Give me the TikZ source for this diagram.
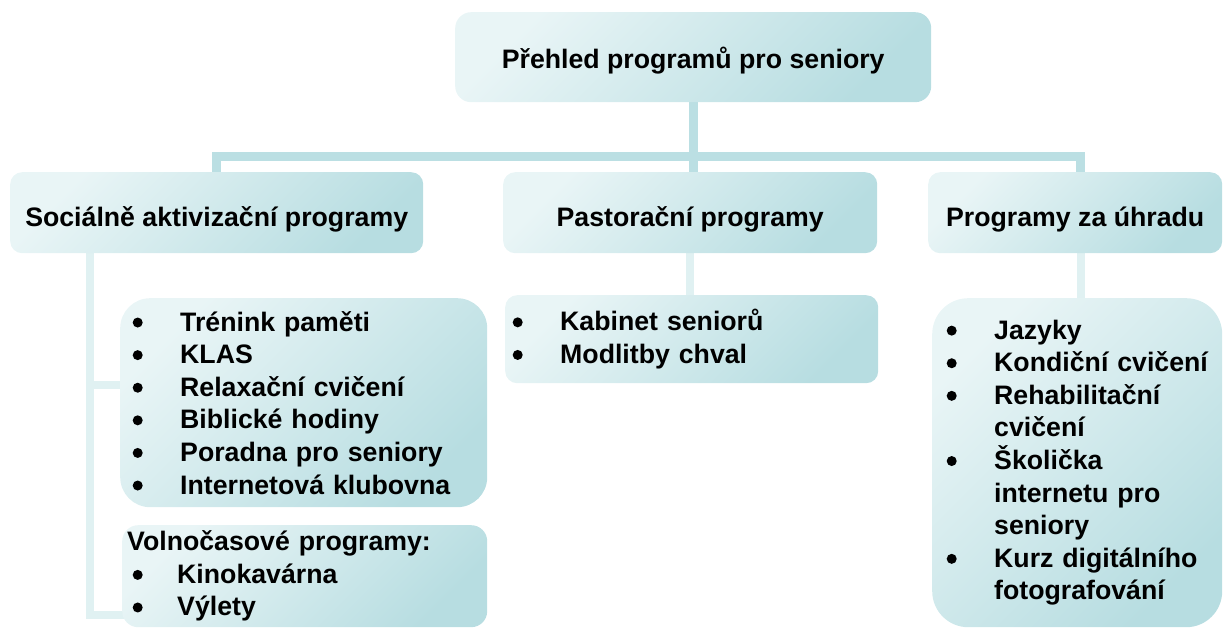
\documentclass[tikz,border=0pt]{standalone}
\usepackage{fontspec}
\setmainfont{Liberation Sans}
\usetikzlibrary{backgrounds}

\definecolor{boxlight}{RGB}{233,245,246}
\definecolor{boxmid}{RGB}{220,239,241}
\definecolor{boxdark}{RGB}{183,221,225}
\definecolor{linkdark}{RGB}{187,223,227}
\definecolor{linklight}{RGB}{224,241,242}

% One bullet line of a list, the optional width is the bullet column.
\newcommand{\bul}{\tikz[baseline = -8.5pt]\fill[black] (0,0) circle (5pt);}
\newcommand{\itm}[2][47pt]{\mbox{\makebox[#1][l]{\hspace*{-0.5pt}\bul}#2}}
\newcommand{\cnt}[1]{\mbox{\hspace*{47pt}#1}}

\begin{document}
\begin{tikzpicture}[%
        x = 1pt, y = -1pt,
        font = \fontsize{26.7}{32.6}\selectfont\bfseries,
        card/.style = {%
            rounded corners = #1,
            shade, top color = boxlight, middle color = boxmid,
            bottom color = boxdark, shading angle = 45,
            anchor = north west, inner sep = 0pt
        },
        card/.default = 12pt,
        group/.style = {card, minimum height = 81pt,
            text height = 27pt, text depth = 0pt},
        trunk/.style = {draw = linkdark, line width = 9pt},
        twig/.style = {draw = linklight, line width = 8pt}
    ]

        \useasboundingbox (0,0) rectangle (1224,628);

        % Heading.
        \node (head) at (455,12) [card = 16pt, minimum width = 476pt,
            minimum height = 90pt, text height = 22pt, text depth = 0pt]
            {Přehled programů pro seniory};

        % The three groups.
        \node (sam) at (10,172) [group, minimum width = 413pt]
            {Sociálně aktivizační programy};
        \node (past) at (503,172) [group, minimum width = 374pt]
            {Pastorační programy};
        \node (uhr) at (928,172) [group, minimum width = 294pt]
            {Programy za úhradu};

        % Lists under the groups.
        \node (trenink) at (120,298) [card = 30pt, minimum height = 209pt,
            text width = 341pt, inner xsep = 13pt, align = left] {%
            \itm{Trénink paměti}\\
            \itm{KLAS}\\
            \itm{Relaxační cvičení}\\
            \itm{Biblické hodiny}\\
            \itm{Poradna pro seniory}\\
            \itm{Internetová klubovna}};
        \node (volno) at (122,525) [card = 16pt, minimum height = 102pt,
            text width = 355pt, inner xsep = 5pt, align = left] {%
            Volnočasové programy:\\
            \hspace*{6pt}\itm[44pt]{Kinokavárna}\\
            \hspace*{6pt}\itm[44pt]{Výlety}};
        \node (pastlist) at (505,295) [card, minimum height = 88pt,
            text width = 357pt, inner xsep = 8pt, align = left] {%
            \itm{Kabinet seniorů}\\
            \itm{Modlitby chval}};
        \node (uhrlist) at (932,298) [card = 36pt, minimum height = 329pt,
            text width = 260pt, inner xsep = 15pt, align = left] {%
            \itm{Jazyky}\\
            \itm{Kondiční cvičení}\\
            \itm{Rehabilitační}\\
            \cnt{cvičení}\\
            \itm{Školička}\\
            \cnt{internetu pro}\\
            \cnt{seniory}\\
            \itm{Kurz digitálního}\\
            \cnt{fotografování}};

        \begin{scope}[on background layer]
            % Heading to the groups.
            \coordinate (bus) at (693,157);
            \draw[trunk] (sam.north) |- (bus) -| ([xshift = 5pt]uhr.north);
            \draw[trunk] (head.south) -- (head.south |- past.north);

            % Groups to their lists.
            \draw[twig] ([xshift = 80pt]sam.south west)
                |- ([yshift = 18pt]trenink.west);
            \draw[twig] ([xshift = 80pt]sam.south west)
                |- ([yshift = -39pt, xshift = 8pt]volno.west);
            \draw[twig] (past.south) -- (past.south |- pastlist.north);
            \draw[twig] ([xshift = 6pt]uhr.south)
                -- ([xshift = 6pt]uhr.south |- uhrlist.north);
        \end{scope}
    \end{tikzpicture}
\end{document}
